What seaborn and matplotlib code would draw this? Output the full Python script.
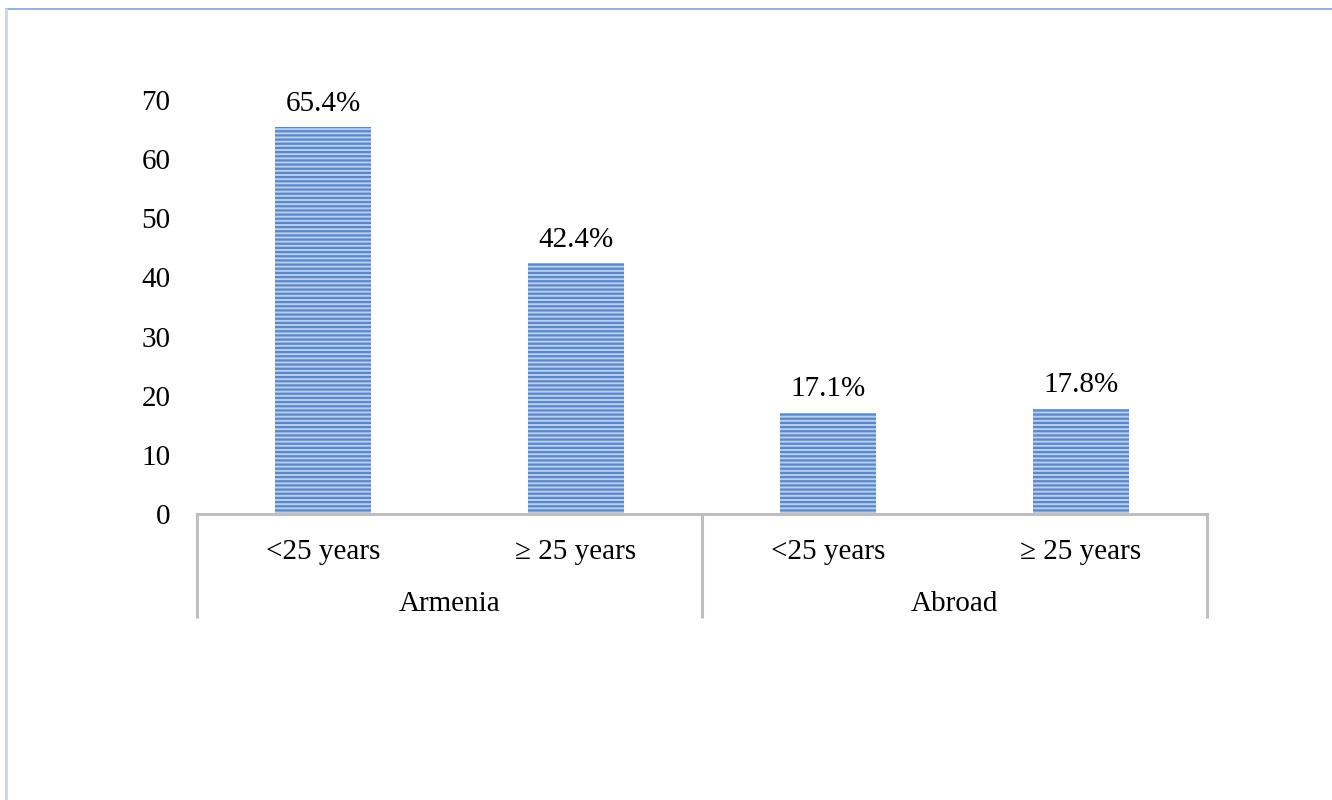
import matplotlib
matplotlib.use("Agg")
import matplotlib.pyplot as plt
from matplotlib.lines import Line2D
import seaborn as sns
import pandas as pd

groups = ["Armenia", "Armenia", "Abroad", "Abroad"]
ages = ["<25 years", "\u2265 25 years", "<25 years", "\u2265 25 years"]
values = [65.4, 42.4, 17.1, 17.8]
yticks = [0, 10, 20, 30, 40, 50, 60, 70]
group_names = ["Armenia", "Abroad"]

sns.set_theme(style="white")
plt.rcParams["font.family"] = ["Liberation Serif", "DejaVu Serif"]
plt.rcParams["hatch.linewidth"] = 1.6
plt.rcParams["text.color"] = "black"
plt.rcParams["xtick.color"] = "black"
plt.rcParams["ytick.color"] = "black"

FS = 21

df = pd.DataFrame({"slot": [f"{g}|{a}" for g, a in zip(groups, ages)],
                   "value": values})

fig = plt.figure(figsize=(13.32, 8), dpi=100)
ax = fig.add_axes([197/1332, (800-514)/800, (1207-197)/1332, 414/800])

sns.barplot(data=df, x="slot", y="value", ax=ax, width=0.38,
            color="#a9c4ea", saturation=1, linewidth=0, edgecolor="#5583c6")
for p in ax.patches:
    p.set_hatch("----")
    p.set_edgecolor("#5a88c9")
    p.set_facecolor("#b8cfef")
    p.set_linewidth(0)

ax.set_xlim(-0.5, 3.5)
ax.set_ylim(0, 70)
ax.set_yticks(yticks)
ax.set_yticklabels([str(t) for t in yticks], fontsize=FS, color="black")
ax.set_xticks(range(len(ages)))
ax.set_xticklabels(ages, fontsize=FS, color="black")
ax.tick_params(axis="y", length=0, pad=19)
ax.tick_params(axis="x", length=0, pad=18)
ax.set_xlabel("")
ax.set_ylabel("")
for s in ["top", "right", "left"]:
    ax.spines[s].set_visible(False)
ax.spines["bottom"].set_color("#bfbfbf")
ax.spines["bottom"].set_linewidth(2.2)

for i, v in enumerate(values):
    ax.annotate(f"{v:.1f}%", (i, v), xytext=(0, 12), textcoords="offset points",
                ha="center", va="baseline", fontsize=FS, color="black")

trans = ax.get_xaxis_transform()
for xd in [-0.5, 1.5, 3.5]:
    ax.plot([xd, xd], [0, -104/414], transform=trans, color="#bfbfbf",
            lw=2.2, clip_on=False, solid_capstyle="butt")
for k, g in enumerate(group_names):
    ax.text(2*k + 0.5, -90/414, g, transform=trans, ha="center", va="center",
            fontsize=FS, color="black")

fig.add_artist(Line2D([6/1332, 1], [1 - 9/800, 1 - 9/800], color="#9aaee0",
                      lw=1.5, transform=fig.transFigure))
fig.add_artist(Line2D([6/1332, 6/1332], [0, 1 - 9/800], color="#c8d4f0",
                      lw=2.0, transform=fig.transFigure))

fig.savefig("out.png", dpi=100)
